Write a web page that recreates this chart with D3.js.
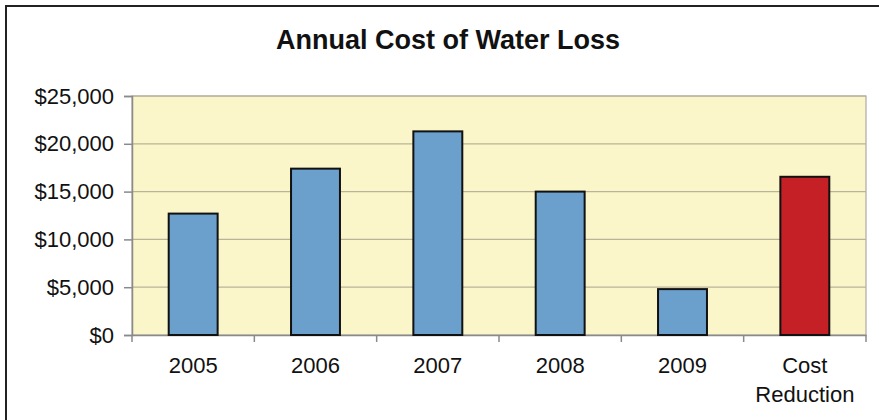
<!DOCTYPE html>
<html><head><meta charset="utf-8">
<script src="https://cdn.jsdelivr.net/npm/d3@7"></script>
<style>html,body{margin:0;padding:0;background:#fff;}svg{display:block;}</style>
</head><body>
<svg id="c" width="879" height="420"></svg>
<script>
const categories = ["2005","2006","2007","2008","2009","Cost Reduction"];
const values = [12700, 17400, 21300, 15000, 4800, 16550];
const barColors = ["#6b9fcc","#6b9fcc","#6b9fcc","#6b9fcc","#6b9fcc","#c52026"];
const yTicks = [0, 5000, 10000, 15000, 20000, 25000];
const title = "Annual Cost of Water Loss";

const svg = d3.select("#c");
const font = "'Liberation Sans', Arial, sans-serif";
// frame
svg.append("path").attr("d","M6,420V6H879").attr("fill","none").attr("stroke","#222").attr("stroke-width",2);

const m = {l:132, r:866, t:96, b:335};
const x = d3.scaleBand().domain(categories).range([m.l, m.r]).paddingInner(0.6).paddingOuter(0.3);
const y = d3.scaleLinear().domain([0,25000]).range([m.b, m.t]);

svg.append("rect").attr("x",m.l).attr("y",m.t).attr("width",m.r-m.l).attr("height",m.b-m.t)
  .attr("fill","#faf6ca").attr("stroke","#9a9a9a").attr("stroke-width",1);

// grid
svg.append("g").selectAll("line").data(yTicks.filter(d=>d>0)).join("line")
  .attr("x1",m.l).attr("x2",m.r).attr("y1",d=>y(d)).attr("y2",d=>y(d))
  .attr("stroke","#b9b496").attr("stroke-width",1.2);

// y axis
const ya = svg.append("g").attr("transform",`translate(${m.l},0)`)
  .call(d3.axisLeft(y).tickValues(yTicks).tickSize(8).tickPadding(10).tickFormat(d=>"$"+d3.format(",")(d)));
ya.select(".domain").attr("stroke","#8a8a8a").attr("stroke-width",1.5);
ya.selectAll(".tick line").attr("stroke","#8a8a8a").attr("stroke-width",1.5);
ya.selectAll("text").attr("font-family",font).attr("font-size",22).attr("fill","#111");

// x axis
const xa = svg.append("g").attr("transform",`translate(0,${m.b})`)
  .call(d3.axisBottom(x).tickSize(0).tickPadding(22));
xa.select(".domain").attr("stroke","#8a8a8a").attr("stroke-width",1.5);
xa.selectAll(".tick text").attr("font-family",font).attr("font-size",22).attr("fill","#111")
  .each(function(d){
    const t = d3.select(this); const parts = d.split(" ");
    if (parts.length>1){
      t.text(null);
      parts.forEach((p,i)=>t.append("tspan").attr("x",0).attr("dy", i===0? "0.71em":"1.32em").text(p));
    }
  });
// boundary ticks
const bounds = d3.range(categories.length+1).map(i=>m.l + i*(m.r-m.l)/categories.length);
svg.append("g").selectAll("line").data(bounds).join("line")
  .attr("x1",d=>d).attr("x2",d=>d).attr("y1",m.b).attr("y2",m.b+7)
  .attr("stroke","#8a8a8a").attr("stroke-width",1.5);

// bars
svg.append("g").selectAll("rect").data(categories).join("rect")
  .attr("x",d=>x(d)).attr("width",x.bandwidth())
  .attr("y",(d,i)=>y(values[i])).attr("height",(d,i)=>y(0)-y(values[i]))
  .attr("fill",(d,i)=>barColors[i]).attr("stroke","#111").attr("stroke-width",2);

svg.append("text").attr("x",448).attr("y",49).attr("text-anchor","middle")
  .attr("font-family",font).attr("font-weight","bold").attr("font-size",27).attr("fill","#111").text(title);
</script>
</body></html>
